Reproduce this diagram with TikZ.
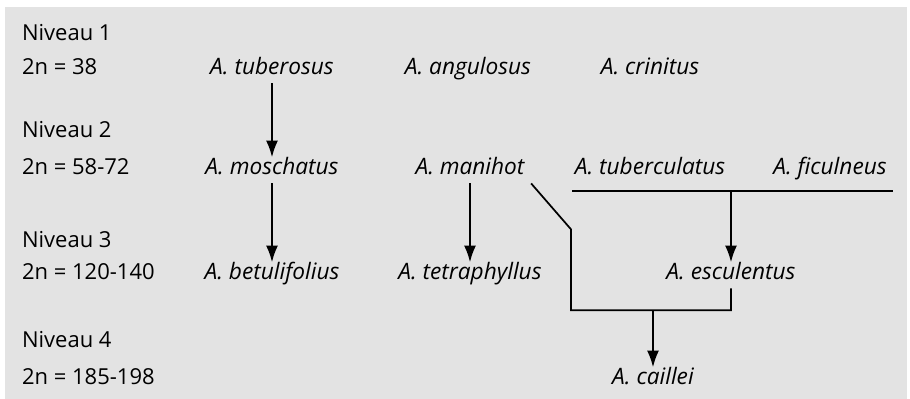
\documentclass[tikz,border=0pt]{standalone}
\usepackage{fontspec}
\setmainfont{Open Sans}
\usetikzlibrary{positioning, arrows.meta, calc}

\begin{document}
\begin{tikzpicture}[x=0.75pt, y=-0.75pt,
  every node/.style={inner sep=2pt, outer sep=3pt, yshift=-2.5pt, font=\fontsize{16.5}{19}\selectfont, text height=1.5ex, text depth=0.3ex},
  level/.style={anchor=west, inner sep=0pt, outer sep=0pt},
  species/.style={font=\fontsize{17}{19}\selectfont\itshape},
  arrow/.style={-{Latex[length=12.5pt, width=9pt]}, line width=1.3pt},
  link/.style={line width=1.3pt}]
% page and grey backdrop
\useasboundingbox (0,0) rectangle (910,399);
\fill[gray!22] (5,7) rectangle (907,399);
% levels
\node[level] (n1) at (22,33) {Niveau 1};
\node[level] (c1) at (22,67) {2n = 38};
\node[level] (n2) at (22,130) {Niveau 2};
\node[level] (c2) at (22,167) {2n = 58-72};
\node[level] (n3) at (22,240) {Niveau 3};
\node[level] (c3) at (22,272) {2n = 120-140};
\node[level] (n4) at (22,340) {Niveau 4};
\node[level] (c4) at (22,377) {2n = 185-198};
% species
\node[species] (tub) at (272,67) {A. tuberosus};
\node[species] (ang) at (468,67) {A. angulosus};
\node[species] (cri) at (650,67) {A. crinitus};
\node[species] (mos) at (272,167) {A. moschatus};
\node[species] (man) at (470,167) {A. manihot};
\node[species] (tbc) at (650,167) {A. tuberculatus};
\node[species] (fic) at (830,167) {A. ficulneus};
\node[species] (bet) at (272,272) {A. betulifolius};
\node[species] (tet) at (470,272) {A. tetraphyllus};
\node[species] (esc) at (731,272) {A. esculentus};
\node[species] (cai) at (653,377) {A. caillei};
% helper points
\coordinate (barL) at (572,188);
\coordinate (barR) at (893,188);
\coordinate (barM) at (731,188);
\coordinate (bend) at (571,226);
\coordinate (joinL) at (571,307);
\coordinate (joinR) at (731,307);
\coordinate (joinM) at (653,307);
% links
\draw[arrow] (tub) -- (mos);
\draw[arrow] (mos) -- (bet);
\draw[arrow] (man) -- (tet);
\draw[link] (barL) -- (barR);
\draw[arrow] (barM) -- (esc);
\draw[link] (man.south east) -- (bend) -- (joinL) -- (joinR) -- (esc.south -| joinR);
\draw[arrow] (joinM) -- (cai);
\end{tikzpicture}
\end{document}
